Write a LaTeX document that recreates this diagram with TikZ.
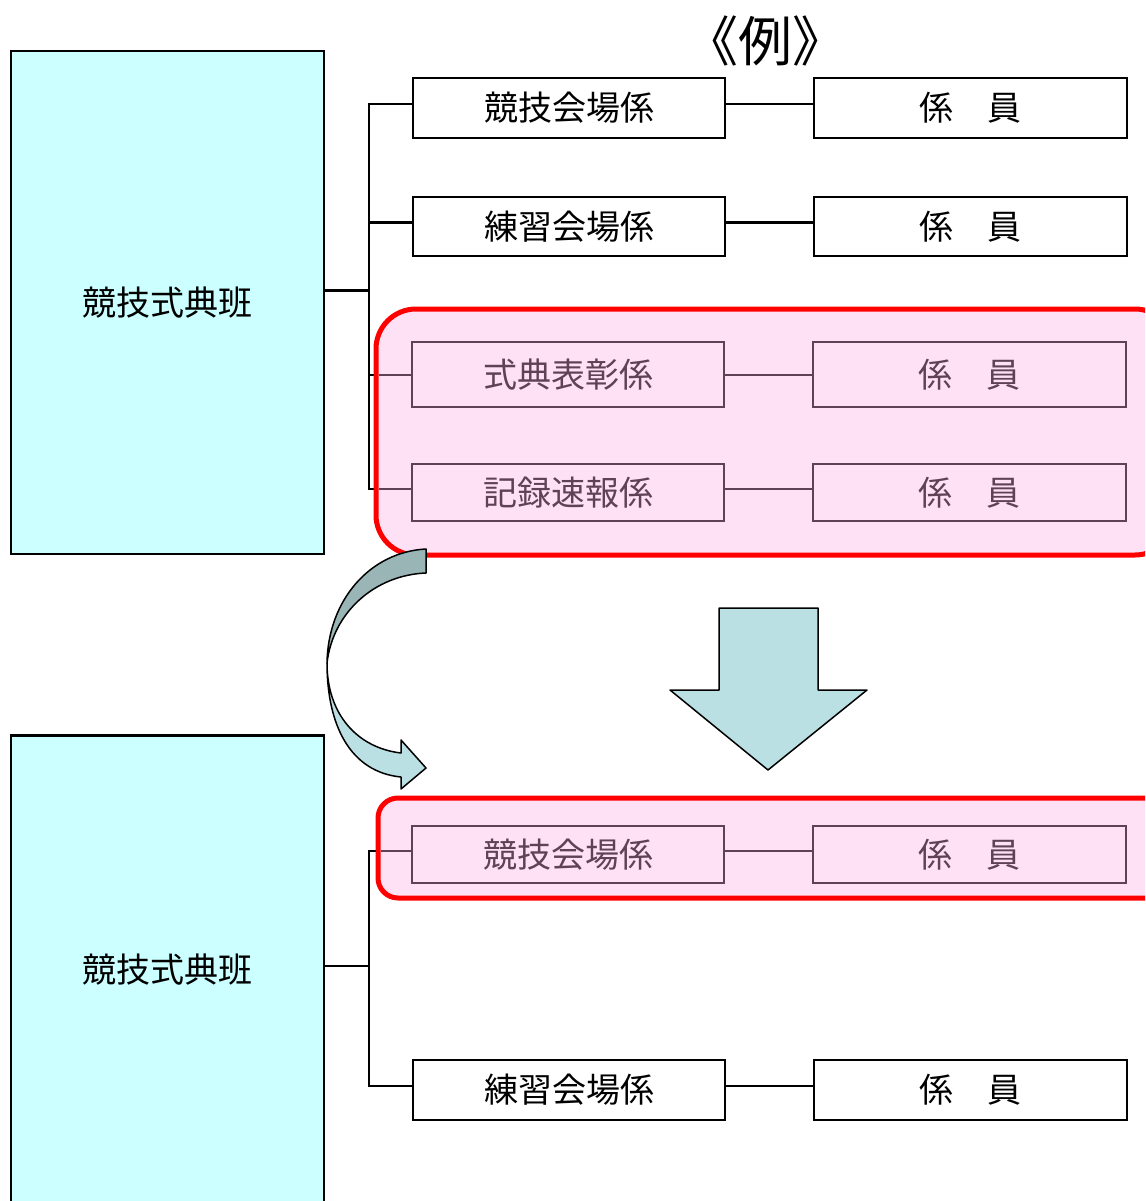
\documentclass[tikz,border=0pt]{standalone}
\usepackage{fontspec}
\newfontfamily\jp{Noto Sans CJK JP}
\definecolor{cyanfill}{HTML}{CCFFFF}
\definecolor{pinkfill}{HTML}{FFE1F6}
\definecolor{pinkline}{HTML}{5E4256}
\definecolor{arrlight}{HTML}{BBE0E3}
\definecolor{arrdark}{HTML}{9AB5B5}
\tikzset{
  blackbox/.style={draw=black, line width=2.8pt, fill=white, minimum width=312pt, minimum height=60pt, inner sep=0pt, font=\jp\fontsize{34}{34}\selectfont},
  pinkbox/.style={draw=pinkline, line width=2pt, fill=pinkfill, minimum width=312pt, inner sep=0pt, text=pinkline, font=\jp\fontsize{34}{34}\selectfont},
  bigbox/.style={draw=black, line width=2.8pt, fill=cyanfill, minimum width=313pt, inner sep=0pt, font=\jp\fontsize{34}{34}\selectfont},
  conn/.style={draw=black, line width=2.8pt},
  pconn/.style={draw=pinkline, line width=2pt},
  redframe/.style={draw=red, line width=5pt, fill=pinkfill},
  arrowshape/.style={draw=black, line width=1.5pt, line join=round}
}
\begin{document}
\begin{tikzpicture}[x=1pt,y=-1pt]
\clip (0,0) rectangle (1145,1201);
\fill[white] (0,0) rectangle (1145,1201);

% title
\node[font=\jp\fontsize{54}{54}\selectfont] (title) at (765,41) {《例》};

% ---------- top section ----------
\node[bigbox, minimum height=503pt] (L1) at (167.5,302.5) {競技式典班};
\coordinate (tx) at (369,0);

\node[blackbox] (a1) at (569,108) {競技会場係};
\node[blackbox, minimum width=313pt] (b1) at (970.5,108) {係　員};
\node[blackbox, minimum height=59pt] (a2) at (569,226.5) {練習会場係};
\node[blackbox, minimum width=313pt, minimum height=59pt] (b2) at (970.5,226.5) {係　員};

\draw[conn] ([yshift=12pt]L1.east) -- ([yshift=12pt]L1.east -| tx);
\draw[conn] ([yshift=4pt]a1.west) -- ([yshift=4pt]a1.west -| tx) -- (369,489) -- (412,489);
\draw[conn] ([yshift=4pt]a2.west) -- ([yshift=4pt]a2.west -| tx);
\draw[conn] (369,375) -- (412,375);
\draw[conn] ([yshift=4pt]a1.east) -- ([yshift=4pt]b1.west);
\draw[conn] ([yshift=4pt]a2.east) -- ([yshift=4pt]b2.west);

% pink frame top
\draw[redframe, rounded corners=40pt] (376,309) rectangle (1175,555) coordinate (fr1);
\node[pinkbox, minimum height=65pt] (a3) at (568,374.5) {式典表彰係};
\node[pinkbox, minimum width=313pt, minimum height=65pt] (b3) at (969.5,374.5) {係　員};
\node[pinkbox, minimum height=57pt] (a4) at (568,492.5) {記録速報係};
\node[pinkbox, minimum width=313pt, minimum height=57pt] (b4) at (969.5,492.5) {係　員};
\draw[pconn] (379,375) -- (a3.west |- 0,375);
\draw[pconn] (379,489) -- (a4.west |- 0,489);
\draw[pconn] (a3.east) -- (b3.west);
\draw[pconn] (a4.east |- 0,489) -- (b4.west |- 0,489);

% ---------- down arrow ----------
\draw[arrowshape, fill=arrlight] (719,608) -- (818,608) -- (818,690) -- (867,690) -- (768,770) coordinate (dtip) -- (670,690) -- (719,690) -- cycle;

% ---------- curved arrow ----------
\draw[arrowshape, fill=arrlight] (327,663) .. controls (327,715) and (358,748) .. (401,753)
  -- (401,740) -- (426,768) -- (401,789) -- (401,777)
  .. controls (350,772) and (327,725) .. (327,663) -- cycle;
\draw[arrowshape, fill=arrdark] (327,663) .. controls (328,600) and (370,552) .. (426,549)
  -- (426,573) .. controls (375,575) and (333,612) .. (327,663) -- cycle;

% ---------- bottom section ----------
\node[bigbox, minimum height=472pt, anchor=north] (L2) at (167.5,734) {};
\node[font=\jp\fontsize{34}{34}\selectfont] (L2t) at (167.5,970) {競技式典班};

\node[blackbox] (a6) at (569,1090) {練習会場係};
\node[blackbox, minimum width=313pt] (b6) at (970.5,1090) {係　員};

\draw[conn] ([yshift=4pt]L2.east |- L2t) -- ([yshift=4pt]L2t -| tx);
\draw[conn] (412,851) -- (369,851) -- ([yshift=4pt]a6.west -| tx) -- ([yshift=4pt]a6.west);
\draw[conn] ([yshift=4pt]a6.east) -- ([yshift=4pt]b6.west);

\draw[redframe, rounded corners=20pt] (378,798) rectangle (1175,898);
\node[pinkbox, minimum height=57pt] (a5) at (568,854.5) {競技会場係};
\node[pinkbox, minimum width=313pt, minimum height=57pt] (b5) at (969.5,854.5) {係　員};
\draw[pconn] (381,851) -- (a5.west |- 0,851);
\draw[pconn] (a5.east |- 0,851) -- (b5.west |- 0,851);
\end{tikzpicture}
\end{document}
